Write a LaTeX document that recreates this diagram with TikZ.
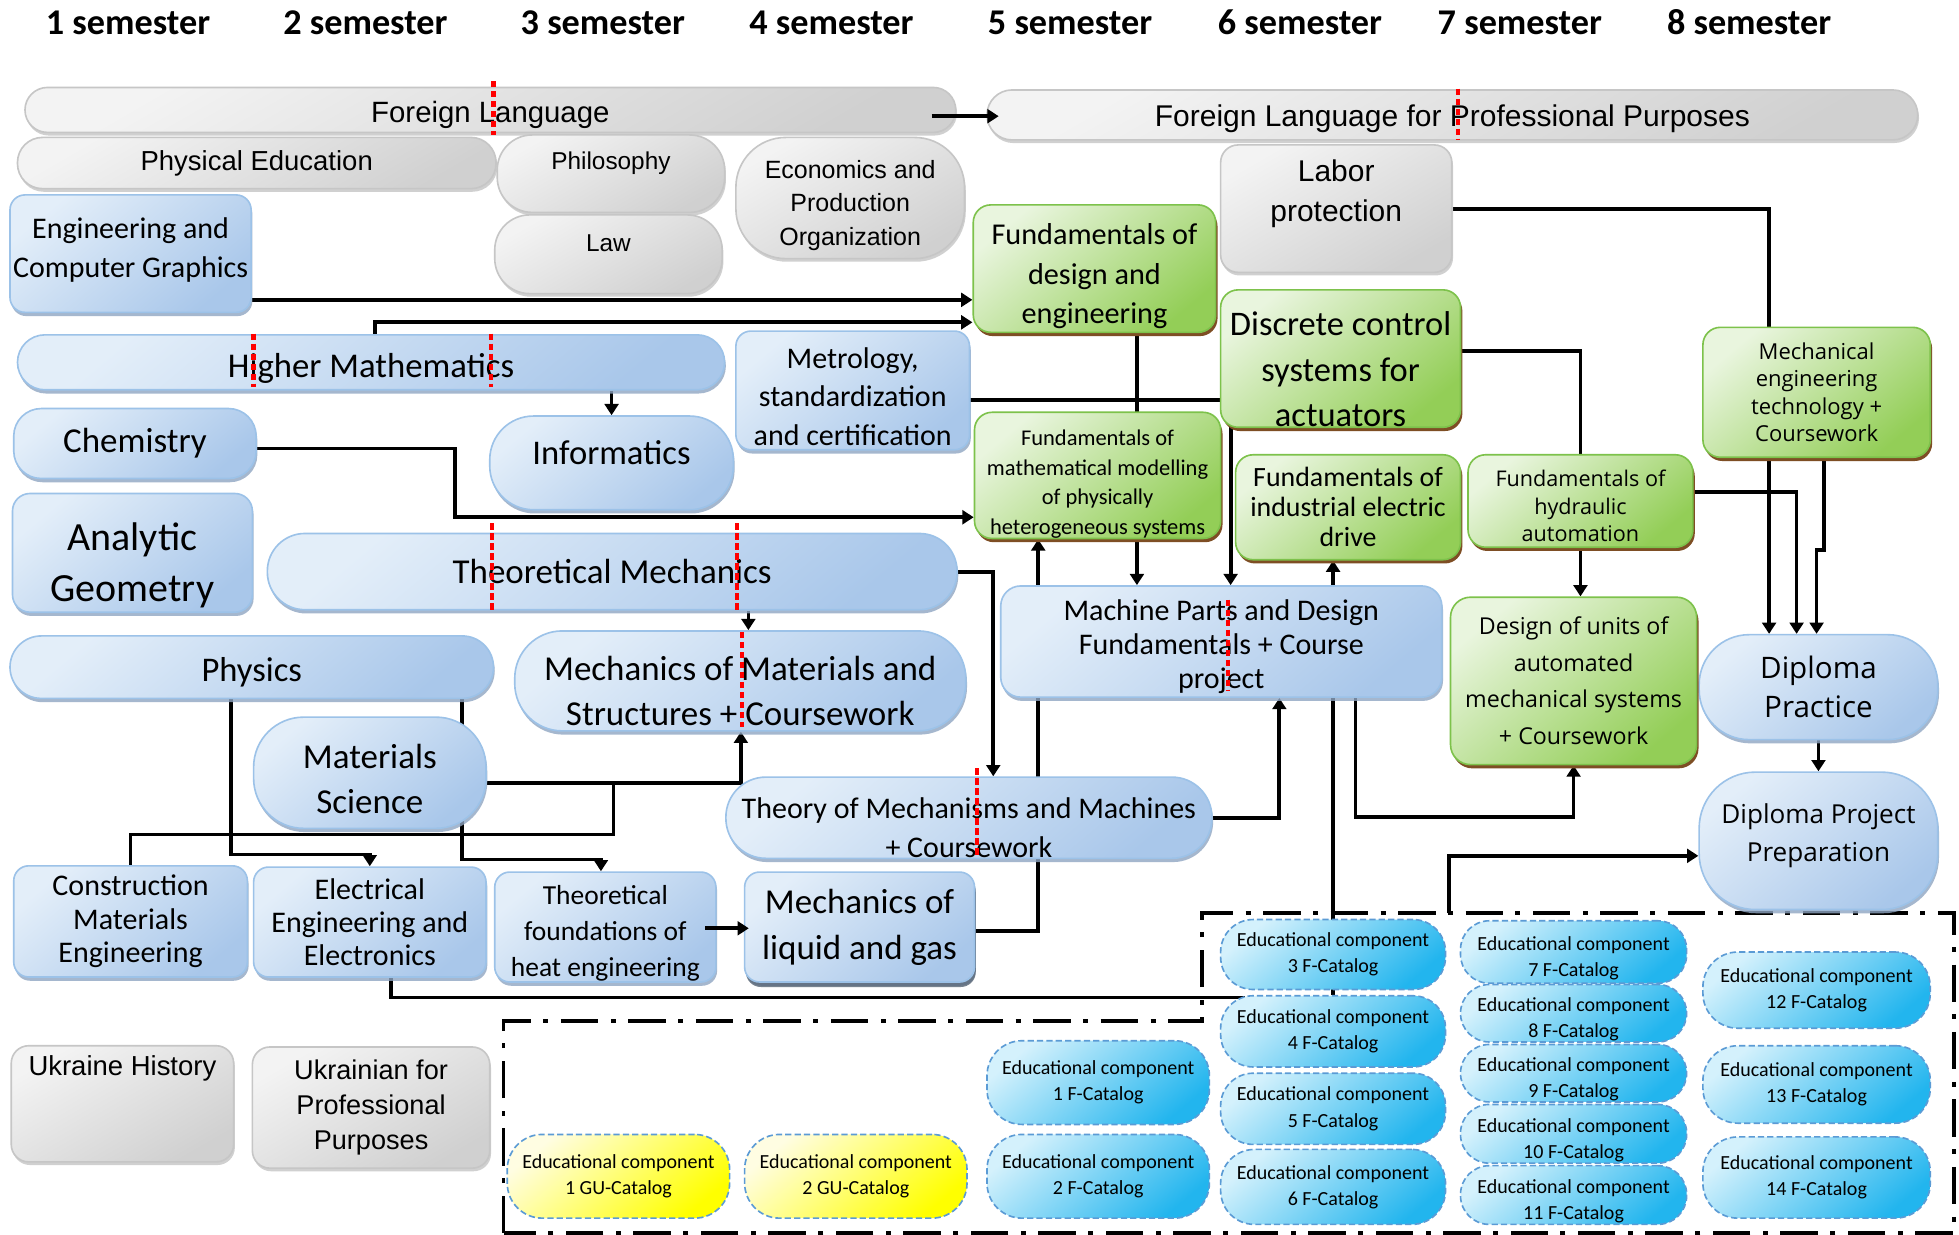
\documentclass[tikz,border=0pt]{standalone}
\usepackage{fontspec}
\setmainfont{Carlito}
\newfontfamily\arialf{Liberation Sans}
\newfontfamily\opensf{Open Sans}
\usetikzlibrary{arrows.meta, calc, shadows, backgrounds}
\newcommand{\fsz}[2]{\fontsize{#1}{#2}\selectfont}
\definecolor{graytop}{HTML}{F3F3F3}
\definecolor{graybot}{HTML}{D0D0D0}
\definecolor{grayline}{HTML}{C6C6C6}
\definecolor{bluetop}{HTML}{E3EEF9}
\definecolor{bluebot}{HTML}{A9C7EA}
\definecolor{blueline}{HTML}{9CC2E8}
\definecolor{blueshadow}{HTML}{8FA6C2}
\definecolor{greentop}{HTML}{E9F5DE}
\definecolor{greenbot}{HTML}{93CE57}
\definecolor{greenline}{HTML}{7DC24B}
\definecolor{greenshadow}{HTML}{7E4E24}
\definecolor{cattop}{HTML}{D4F1FC}
\definecolor{catbot}{HTML}{22B5EE}
\definecolor{catline}{HTML}{5B9BD5}
\definecolor{gutop}{HTML}{FFFDE2}
\definecolor{gubot}{HTML}{FFFF00}
\tikzset{course/.style={align=center, inner sep=1pt, line width=1.3pt},
         gray course/.style={course, draw=grayline, top color=graytop, bottom color=graybot, shading angle=30,
                             drop shadow={shadow xshift=1pt, shadow yshift=-2.5pt, fill=gray!60, opacity=.6}},
         blue course/.style={course, draw=blueline, top color=bluetop, bottom color=bluebot, shading angle=40,
                             drop shadow={shadow xshift=1pt, shadow yshift=-3pt, fill=blueshadow, opacity=.8}},
         green course/.style={course, draw=greenline, top color=greentop, bottom color=greenbot, shading angle=40,
                              drop shadow={shadow xshift=1.5pt, shadow yshift=-3pt, fill=greenshadow, opacity=1}},
         fcat/.style={course, draw=catline, dash pattern=on 5pt off 2.5pt, top color=cattop, bottom color=catbot,
                      shading angle=40, rounded corners=23pt, minimum width=180pt, font=\fsz{16}{21}},
         low fcat/.style={fcat, minimum width=181pt, label={[align=center, font=\fsz{16}{21}, yshift=-5pt]center:{Educational component\\#1 F-Catalog}}},
         gucat/.style={fcat, top color=gutop, bottom color=gubot, shading angle=40},
         sem/.style={font=\bfseries\fsz{29}{34}, anchor=base},
         conn/.style={line width=3pt},
         arr/.style={conn, -{Triangle[length=9pt, width=11pt]}},
         redcut/.style={red, line width=3.5pt, dash pattern=on 5pt off 3pt},
         frame line/.style={line width=3pt, dash pattern=on 30pt off 10pt on 4pt off 10pt}
        }
\begin{document}
\begin{tikzpicture}[x=1pt,y=-1pt]
\useasboundingbox(0,0)rectangle(1568,988);

\node[sem](sem1)at(102.5,27.5){1 semester};
\node[sem](sem2)at(292.5,27.5){2 semester};
\node[sem](sem3)at(482.5,27.5){3 semester};
\node[sem](sem4)at(665.5,27.5){4 semester};
\node[sem](sem5)at(856.5,27.5){5 semester};
\node[sem](sem6)at(1040.5,27.5){6 semester};
\node[sem](sem7)at(1216.5,27.5){7 semester};
\node[sem](sem8)at(1400,27.5){8 semester};

\node[gray course, rounded corners=18pt, minimum width=745pt, minimum height=36pt, label={[font=\arialf\fsz{23.5}{28}, yshift=-4pt]center:Foreign Language}](fl)at(392.5,88){};
\node[gray course, rounded corners=20pt, minimum width=745pt, minimum height=40pt, label={[font=\arialf\fsz{24}{28}, yshift=-3pt]center:Foreign Language for Professional Purposes}](flpp)at(1162.5,92){};
\node[gray course, rounded corners=20pt, minimum width=383pt, minimum height=41pt, font=\arialf\fsz{22}{26}](pe)at(205.5,130.5){Physical Education};
\node[gray course, rounded corners=28pt, minimum width=182pt, minimum height=62pt, label={[font=\arialf\fsz{19.5}{24}, yshift=8pt]center:Philosophy}](phil)at(489,139){};
\node[gray course, rounded corners=28pt, minimum width=182pt, minimum height=63pt, label={[font=\arialf\fsz{19.5}{24}, yshift=8.5pt]center:Law}](law)at(487,203.5){};
\node[gray course, rounded corners=40pt, minimum width=183pt, minimum height=97pt, label={[align=center, font=\arialf\fsz{20}{26.5}, yshift=-6pt]center:{Economics and\\Production\\Organization}}](econ)at(680.5,158.5){};
\node[gray course, rounded corners=14pt, minimum width=185pt, minimum height=102pt, label={[align=center, font=\arialf\fsz{24}{32}, yshift=12pt]center:{Labor\\protection}}](labor)at(1069.5,167){};
\node[gray course, rounded corners=14pt, minimum width=178pt, minimum height=93pt, label={[font=\arialf\fsz{22}{26}, yshift=28pt]center:Ukraine History}](uh)at(98,883.5){};
\node[gray course, rounded corners=14pt, minimum width=190pt, minimum height=97pt, font=\arialf\fsz{21.7}{28}](upp)at(297,886.5){Ukrainian for\\Professional\\Purposes};

\node[blue course, rounded corners=12pt, minimum width=193pt, minimum height=94pt, label={[align=center, font=\fsz{24}{31}, yshift=3pt]center:{Engineering and\\Computer Graphics}}](ecg)at(104.5,203){};
\node[blue course, rounded corners=22pt, minimum width=566pt, minimum height=44pt, label={[font=\fsz{27.8}{32}, yshift=-5pt]center:Higher Mathematics}](hm)at(297,290){};
\node[blue course, rounded corners=22pt, minimum width=194pt, minimum height=56pt, font=\fsz{28}{32}](chem)at(108,355){Chemistry};
\node[blue course, rounded corners=14pt, minimum width=192pt, minimum height=95pt, label={[align=center, font=\fsz{32}{41}, yshift=-10pt]center:{Analytic\\Geometry}}](ag)at(106,442.5){};
\node[blue course, rounded corners=35pt, minimum width=195pt, minimum height=75pt, label={[font=\fsz{27.7}{32}, yshift=8.5pt]center:Informatics}](inf)at(489.5,370.5){};
\node[blue course, rounded corners=12pt, minimum width=187pt, minimum height=95pt, label={[align=center, font=\fsz{24}{31}, yshift=-5pt]center:{Metrology,\\standardization\\and certification}}](metro)at(682.5,312.5){};
\node[blue course, rounded corners=30pt, minimum width=552pt, minimum height=61pt, font=\fsz{28}{32}](tm)at(490,457.5){Theoretical Mechanics};
\node[blue course, rounded corners=25pt, minimum width=387pt, minimum height=50pt, label={[font=\fsz{27.7}{32}, yshift=-4pt]center:Physics}](phys)at(201.5,534){};
\node[blue course, rounded corners=38pt, minimum width=361pt, minimum height=80pt, label={[align=center, font=\fsz{28}{36}, yshift=-8pt]center:{Mechanics of Materials and\\Structures + Coursework}}](mom)at(592.5,545){};
\node[blue course, rounded corners=40pt, minimum width=186pt, minimum height=89pt, label={[align=center, font=\fsz{28}{36}, yshift=-5pt]center:{Materials\\Science}}](ms)at(296,618.5){};
\node[blue course, rounded corners=12pt, minimum width=187pt, minimum height=89pt, font=\fsz{24}{27}](cme)at(104.5,737.5){Construction\\Materials\\Engineering};
\node[blue course, rounded corners=12pt, minimum width=186pt, minimum height=88pt, font=\fsz{24}{26.5}](ee)at(296,738){Electrical\\Engineering and\\Electronics};
\node[blue course, rounded corners=12pt, minimum width=177pt, minimum height=88pt, label={[align=center, font=\fsz{22}{29}, yshift=-5pt]center:{Theoretical\\foundations of\\heat engineering}}](heat)at(484.5,742){};
\node[blue course, rounded corners=12pt, minimum width=184pt, minimum height=88pt, font=\fsz{28}{37},
      drop shadow={shadow xshift=1pt, shadow yshift=-4pt, fill=blueshadow!60!black, opacity=.8}](liquid)at(688,742){Mechanics of\\liquid and gas};
\node[blue course, rounded corners=32pt, minimum width=389pt, minimum height=65pt, label={[align=center, font=\fsz{24}{31}, yshift=-8pt]center:{Theory of Mechanisms and Machines\\+ Coursework}}](tmm)at(775.5,654.5){};
\node[blue course, rounded corners=16pt, minimum width=353pt, minimum height=89pt, label={[align=center, font=\fsz{24}{27}, yshift=-4pt]center:{Machine Parts and Design\\Fundamentals + Course\\project}}](parts)at(977.5,513.5){};
\node[blue course, rounded corners=40pt, minimum width=191pt, minimum height=84pt, font=\opensf\fsz{23.7}{31}](dp)at(1455.5,550){Diploma\\Practice};
\node[blue course, rounded corners=45pt, minimum width=191pt, minimum height=110pt, label={[align=center, font=\opensf\fsz{20.9}{31}, yshift=4pt]center:{Diploma Project\\Preparation}}](dpp)at(1455.5,673){};

\node[green course, rounded corners=14pt, minimum width=194pt, minimum height=102pt, label={[align=center, font=\fsz{24.2}{31.5}, yshift=-6pt]center:{Fundamentals of\\design and\\engineering}}](design)at(876,215){};
\node[green course, rounded corners=14pt, minimum width=192pt, minimum height=110pt, label={[align=center, font=\fsz{27.6}{36.5}, yshift=-8.5pt]center:{Discrete control\\systems for\\actuators}}](discrete)at(1073,287){};
\node[green course, rounded corners=14pt, minimum width=197pt, minimum height=101pt, label={[align=center, font=\fsz{18}{23.7}, yshift=-7pt]center:{Fundamentals of\\mathematical modelling\\of physically\\heterogeneous systems}}](model)at(878.5,380.5){};
\node[green course, rounded corners=14pt, minimum width=180pt, minimum height=84pt, font=\fsz{22.3}{24}](drive)at(1079,406){Fundamentals of\\industrial electric\\drive};
\node[green course, rounded corners=14pt, minimum width=180pt, minimum height=74pt, label={[align=center, font=\opensf\fsz{17.3}{22}, yshift=-4pt]center:{Fundamentals of\\hydraulic\\automation}}](hydr)at(1265,401){};
\node[green course, rounded corners=14pt, minimum width=182pt, minimum height=104pt, font=\opensf\fsz{17.6}{22}](mech)at(1454,314){Mechanical\\engineering\\technology +\\Coursework};
\node[green course, rounded corners=16pt, minimum width=197pt, minimum height=134pt, font=\opensf\fsz{18.6}{29.3}](units)at(1259.5,545){Design of units of\\automated\\mechanical systems\\+ Coursework};

\node[fcat, rounded corners=28pt, minimum width=178pt, minimum height=67pt](edf1)at(879,866.5){Educational component\\1 F-Catalog};
\node[fcat, rounded corners=28pt, minimum width=178pt, minimum height=67pt](edf2)at(879,941.5){Educational component\\2 F-Catalog};
\node[fcat, rounded corners=26pt, minimum height=56pt](edf3)at(1067,764){Educational component\\3 F-Catalog};
\node[fcat, rounded corners=26pt, minimum height=57pt](edf4)at(1067,825.5){Educational component\\4 F-Catalog};
\node[fcat, rounded corners=26pt, minimum height=57pt](edf5)at(1067,887.5){Educational component\\5 F-Catalog};
\node[fcat, rounded corners=27pt, minimum height=60pt](edf6)at(1067,950){Educational component\\6 F-Catalog};
\node[low fcat=7, minimum height=50pt](edf7)at(1259.5,762){};
\node[low fcat=8, minimum height=46pt](edf8)at(1259.5,811){};
\node[low fcat=9, minimum height=46pt](edf9)at(1259.5,859){};
\node[low fcat=10, minimum height=47pt](edf10)at(1259.5,907.5){};
\node[low fcat=11, minimum height=47pt](edf11)at(1259.5,956.5){};
\node[fcat, rounded corners=28pt, minimum width=182pt, minimum height=61pt](edf12)at(1454,792.5){Educational component\\12 F-Catalog};
\node[fcat, rounded corners=28pt, minimum width=182pt, minimum height=62pt](edf13)at(1454,868){Educational component\\13 F-Catalog};
\node[fcat, rounded corners=28pt, minimum width=182pt, minimum height=65pt](edf14)at(1454,942.5){Educational component\\14 F-Catalog};
\node[gucat, rounded corners=28pt, minimum width=178pt, minimum height=67pt](gu1)at(495,941.5){Educational component\\1 GU-Catalog};
\node[gucat, rounded corners=28pt, minimum width=178pt, minimum height=67pt](gu2)at(685,941.5){Educational component\\2 GU-Catalog};

\coordinate(elect)at(1160,731);

\begin{scope}[on background layer]
\fill[white](0,0)rectangle(1568,988);
\draw[frame line](403,987)--(403,817)--(962,817)--(962,731)--(1564,731)--(1564,987)--cycle;
\draw[arr](ecg.east|-0,240)--(design.west|-0,240);
\draw[arr](300,0|-hm.north)|-(design.west|-0,258);
\draw[arr](inf.north|-hm.south)--(inf.north);
\draw[arr](chem.east|-0,359)-|(364,414)--(model.west|-0,414);
\draw[arr](metro.east|-0,320)-|(985,0|-parts.north);
\draw[arr](910,0|-design.south)--(910,0|-parts.north);
\draw[arr](liquid.east|-0,745)-|(831,0|-model.south);
\draw[conn](discrete.east|-0,281)-|(hydr.north);
\draw[arr](hydr.south)--(hydr.south|-units.north);
\draw[arr](labor.east)-|(1416,0|-dp.north);
\draw[arr](hydr.east|-0,394)-|(1438,0|-dp.north);
\draw[arr](1460,0|-mech.south)--(1460,440)--(1454,440)--(1454,0|-dp.north);
\draw[arr](dp.south)--(dpp.north);
\draw[arr](599,0|-tm.south)--(599,0|-mom.north);
\draw[arr](tm.east|-0,458)-|(795,0|-tmm.north);
\draw[arr](ms.east|-0,627)-|(593,0|-mom.south);
\draw[conn](cme.north)|-(491,668)--(491,627);
\draw[arr](185,0|-phys.south)|-(296,684)--(ee.north);
\draw[arr](370,0|-phys.south)|-(481,688)--(481,0|-heat.north);
\draw[conn](313,0|-ee.south)|-($(edf4.north west)+(20,2)$);
\draw[arr](edf4.north)--(edf4.north|-drive.south);
\draw[arr](1085,0|-parts.south)|-(units.south|-0,654)--(units.south);
\draw[arr](tmm.east)-|(1024,0|-parts.south);
\draw[arr](elect)|-(dpp.west|-0,685);
\end{scope}

\draw[arr]($(fl.east)+(-20,5)$)--($(flpp.west)+(10,1)$);
\draw[arr]($(heat.east)+(-9,1)$)--($(liquid.west)+(4,1)$);

\draw[redcut](395,65)--(395,108);
\draw[redcut](1167,71)--(1167,112);
\draw[redcut](203,267)--(203,310);
\draw[redcut](393,267)--(393,310);
\draw[redcut](394,419)--(394,489);
\draw[redcut](590,419)--(590,489);
\draw[redcut](594,506)--(594,582);
\draw[redcut](782,615)--(782,686);
\draw[redcut](983,480)--(983,553);
\end{tikzpicture}
\end{document}
